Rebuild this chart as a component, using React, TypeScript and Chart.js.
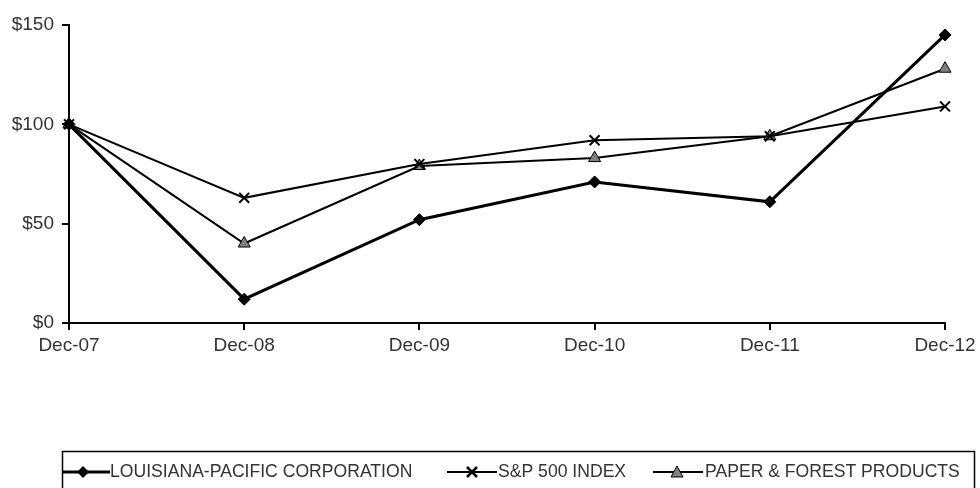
import React, { useEffect, useRef } from "react";
import { Chart, registerables } from "chart.js";

Chart.register(...registerables);

const categories = ["Dec-07", "Dec-08", "Dec-09", "Dec-10", "Dec-11", "Dec-12"];
const lpValues = [100, 12, 52, 71, 61, 145];
const spValues = [100, 63, 80, 92, 94, 109];
const paperValues = [100, 40, 79, 83, 94, 128];
const seriesNames = ["LOUISIANA-PACIFIC CORPORATION", "S&P 500 INDEX", "PAPER & FOREST PRODUCTS"];
const yTicks = [0, 50, 100, 150];

const FONT = "'Liberation Sans', Arial, sans-serif";
const TEXT = "#333333";

function drawMarker(ctx: CanvasRenderingContext2D, kind: string, x: number, y: number) {
  ctx.save();
  ctx.strokeStyle = "#000";
  if (kind === "diamond") {
    ctx.fillStyle = "#000";
    ctx.beginPath();
    ctx.moveTo(x, y - 6);
    ctx.lineTo(x + 6, y);
    ctx.lineTo(x, y + 6);
    ctx.lineTo(x - 6, y);
    ctx.closePath();
    ctx.fill();
  } else if (kind === "cross") {
    ctx.lineWidth = 2.5;
    ctx.beginPath();
    ctx.moveTo(x - 5, y - 5);
    ctx.lineTo(x + 5, y + 5);
    ctx.moveTo(x + 5, y - 5);
    ctx.lineTo(x - 5, y + 5);
    ctx.stroke();
  } else {
    ctx.fillStyle = "#808080";
    ctx.lineWidth = 1;
    ctx.beginPath();
    ctx.moveTo(x, y - 6);
    ctx.lineTo(x + 6, y + 5);
    ctx.lineTo(x - 6, y + 5);
    ctx.closePath();
    ctx.fill();
    ctx.stroke();
  }
  ctx.restore();
}

const legendPlugin = {
  id: "boxLegend",
  afterDraw(chart: any) {
    const ctx: CanvasRenderingContext2D = chart.ctx;
    ctx.save();
    ctx.strokeStyle = "#000";
    ctx.lineWidth = 1.5;
    ctx.strokeRect(62.5, 451.5, 912, 40);
    const cy = 472;
    const items = [
      { x0: 63, x1: 110, m: 83, kind: "diamond", lw: 3, tx: 110, name: seriesNames[0] },
      { x0: 447, x1: 497, m: 472, kind: "cross", lw: 2, tx: 498, name: seriesNames[1] },
      { x0: 653, x1: 703, m: 677, kind: "triangle", lw: 2, tx: 705, name: seriesNames[2] },
    ];
    for (const it of items) {
      ctx.strokeStyle = "#000";
      ctx.lineWidth = it.lw;
      ctx.beginPath();
      ctx.moveTo(it.x0, cy);
      ctx.lineTo(it.x1, cy);
      ctx.stroke();
      drawMarker(ctx, it.kind, it.m, cy);
      ctx.fillStyle = TEXT;
      ctx.font = `17.6px ${FONT}`;
      ctx.textBaseline = "middle";
      ctx.textAlign = "left";
      ctx.fillText(it.name, it.tx, cy);
    }
    ctx.restore();
  },
};

export default function App() {
  const ref = useRef<HTMLCanvasElement | null>(null);
  useEffect(() => {
    document.body.style.margin = "0";
    const canvas = ref.current!;
    const chart = new Chart(canvas, {
      type: "line",
      data: {
        labels: categories,
        datasets: [
          {
            label: seriesNames[0],
            data: lpValues,
            borderColor: "#000",
            backgroundColor: "#000",
            borderWidth: 3,
            pointStyle: "rectRot",
            pointRadius: 6,
            pointBackgroundColor: "#000",
            pointBorderColor: "#000",
            pointBorderWidth: 1,
            tension: 0,
          },
          {
            label: seriesNames[1],
            data: spValues,
            borderColor: "#000",
            backgroundColor: "#000",
            borderWidth: 2,
            pointStyle: "crossRot",
            pointRadius: 7,
            pointBorderColor: "#000",
            pointBorderWidth: 2,
            tension: 0,
          },
          {
            label: seriesNames[2],
            data: paperValues,
            borderColor: "#000",
            backgroundColor: "#808080",
            borderWidth: 2,
            pointStyle: "triangle",
            pointRadius: 7,
            pointBackgroundColor: "#808080",
            pointBorderColor: "#000",
            pointBorderWidth: 1,
            tension: 0,
          },
        ],
      },
      options: {
        animation: false,
        responsive: false,
        devicePixelRatio: 1,
        layout: { padding: { left: 0, right: 35, top: 25, bottom: 125 } },
        plugins: { legend: { display: false }, tooltip: { enabled: false } },
        scales: {
          x: {
            offset: false,
            afterFit: (s: any) => { s.height = 40; },
            grid: { display: true, drawOnChartArea: false, drawTicks: true, tickLength: 7, color: "#000", lineWidth: 2 },
            border: { display: true, color: "#000", width: 2 },
            ticks: { color: TEXT, font: { family: FONT, size: 19 }, padding: 4, maxRotation: 0, autoSkip: false },
          },
          y: {
            min: 0,
            max: 150,
            afterFit: (s: any) => { s.width = 69; },
            afterBuildTicks: (s: any) => { s.ticks = yTicks.map((v) => ({ value: v })); },
            grid: { display: true, drawOnChartArea: false, drawTicks: true, tickLength: 7, color: "#000", lineWidth: 2 },
            border: { display: true, color: "#000", width: 2 },
            ticks: { color: TEXT, font: { family: FONT, size: 19 }, padding: 8, callback: (v: any) => "$" + v },
          },
        },
      },
      plugins: [legendPlugin],
    });
    return () => chart.destroy();
  }, []);
  return (
    <div style={{ width: 980, height: 488 }}>
      <canvas ref={ref} width={980} height={488} style={{ display: "block" }} />
    </div>
  );
}
